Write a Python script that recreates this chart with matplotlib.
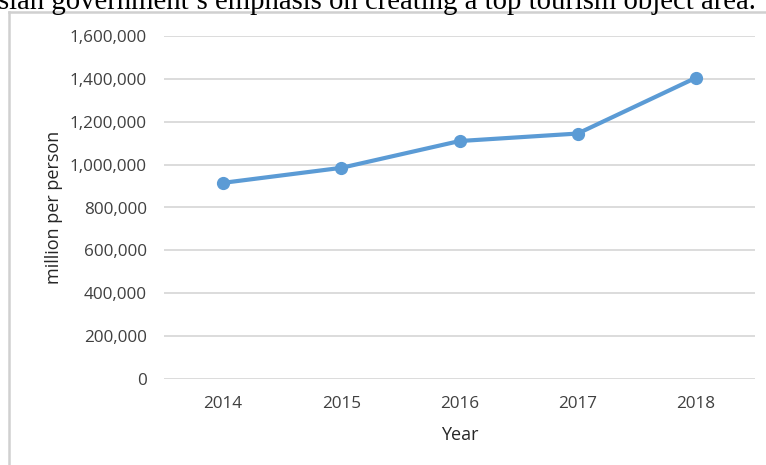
import matplotlib
matplotlib.use("Agg")
import matplotlib.pyplot as plt
from matplotlib.lines import Line2D
from matplotlib.ticker import FuncFormatter

years = ["2014", "2015", "2016", "2017", "2018"]
values = [915000, 985000, 1110000, 1145000, 1405000]
y_ticks = [0, 200000, 400000, 600000, 800000, 1000000, 1200000, 1400000, 1600000]
header_text = "sian government\u2019s emphasis on creating a top tourism object area."

W, H = 766, 465
fig = plt.figure(figsize=(W / 100, H / 100), dpi=100)
fig.patch.set_facecolor("white")

# plot area in pixels: left 164, right 755, top 36, bottom 379
ax = fig.add_axes([164 / W, 1 - 379 / H, (755 - 164) / W, (379 - 36) / H])
x = list(range(len(years)))
ax.plot(x, values, color="#5B9BD5", linewidth=3.0, marker="o", markersize=8.5,
        solid_capstyle="round", zorder=3)
ax.set_xlim(-0.5, len(years) - 0.5)
ax.set_ylim(0, 1600000)
ax.set_yticks(y_ticks)
ax.yaxis.set_major_formatter(FuncFormatter(lambda v, p: f"{int(v):,}"))
ax.set_xticks(x)
ax.set_xticklabels(years)
ax.grid(axis="y", color="#D9D9D9", linewidth=1.3)
ax.set_axisbelow(True)
for s in ax.spines.values():
    s.set_visible(False)
ax.tick_params(axis="both", length=0, labelsize=12.3, labelcolor="#404040")
ax.tick_params(axis="y", pad=12.5)
ax.tick_params(axis="x", pad=12)
for lab in ax.get_xticklabels() + ax.get_yticklabels():
    lab.set_family("Open Sans")
ax.set_xlabel("Year", fontsize=13, color="#262626", family="Open Sans", labelpad=10)
ax.set_ylabel("million per person", fontsize=13, color="#262626", family="Open Sans", labelpad=5)

# chart frame (partial, as in the cropped screenshot)
fig.add_artist(Line2D([9 / W, 9 / W], [0, 1 - 12 / H], transform=fig.transFigure,
                      color="#D0D0D0", linewidth=1.8))
fig.add_artist(Line2D([9 / W, 1], [1 - 12 / H, 1 - 12 / H], transform=fig.transFigure,
                      color="#D0D0D0", linewidth=1.8))

# cropped header text of the surrounding document
t = fig.text(-2 / W, 1 - 9 / H, header_text, family="Liberation Serif",
             fontsize=20, color="black", va="baseline", ha="left")
fig.canvas.draw()
bb = t.get_window_extent()
t.set_fontsize(20 * 759 / bb.width)

fig.savefig("out.png", dpi=100)
